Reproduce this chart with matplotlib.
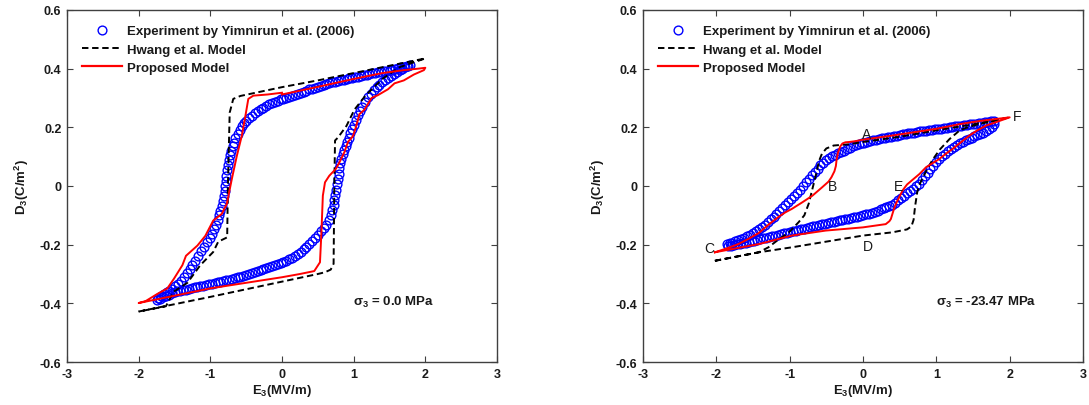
import matplotlib
matplotlib.use("Agg")
import matplotlib.pyplot as plt
from matplotlib.lines import Line2D

plt.rcParams['font.family'] = ['Liberation Sans', 'DejaVu Sans']
plt.rcParams['mathtext.fontset'] = 'custom'
plt.rcParams['mathtext.rm'] = 'Liberation Sans:bold'
plt.rcParams['mathtext.it'] = 'Liberation Sans:bold'
plt.rcParams['mathtext.bf'] = 'Liberation Sans:bold'
plt.rcParams['mathtext.default'] = 'rm'

# ---------------- sigma3 = 0.0 MPa ----------------
exp0_up_E = [1.78, 1.74, 1.70, 1.66, 1.62, 1.58, 1.54, 1.50, 1.46, 1.42, 1.38, 1.34, 1.30, 1.26, 1.22,
             1.18, 1.14, 1.10, 1.06, 1.02, 0.98, 0.94, 0.90, 0.86, 0.82, 0.78, 0.74, 0.70, 0.66, 0.62,
             0.58, 0.54, 0.50, 0.46, 0.42, 0.38, 0.34, 0.30, 0.26, 0.22, 0.18, 0.14, 0.10, 0.06, 0.02,
             -0.02, -0.06, -0.10, -0.14, -0.18, -0.22, -0.26, -0.30, -0.34, -0.38, -0.42, -0.46, -0.50,
             -0.53, -0.56, -0.59, -0.62, -0.65, -0.67, -0.69, -0.71, -0.73, -0.745, -0.76, -0.77, -0.78,
             -0.785, -0.79, -0.80, -0.81, -0.825, -0.84, -0.86, -0.88, -0.90, -0.92, -0.95, -0.98, -1.01,
             -1.05, -1.09, -1.13, -1.17, -1.21, -1.25, -1.29, -1.33, -1.37, -1.41, -1.45, -1.49, -1.53,
             -1.57, -1.61, -1.65, -1.69, -1.73]
exp0_up_D = [0.413, 0.410, 0.406, 0.404, 0.401, 0.399, 0.397, 0.395, 0.393, 0.391, 0.389, 0.387, 0.386,
             0.384, 0.382, 0.380, 0.378, 0.376, 0.373, 0.371, 0.369, 0.367, 0.365, 0.363, 0.361, 0.358,
             0.356, 0.353, 0.350, 0.347, 0.344, 0.341, 0.338, 0.335, 0.332, 0.329, 0.325, 0.322, 0.318,
             0.314, 0.311, 0.307, 0.304, 0.301, 0.298, 0.295, 0.291, 0.287, 0.283, 0.278, 0.273, 0.267,
             0.261, 0.255, 0.248, 0.240, 0.231, 0.222, 0.214, 0.203, 0.192, 0.178, 0.162, 0.148, 0.136,
             0.121, 0.105, 0.088, 0.070, 0.053, 0.035, 0.018, 0.000, -0.018, -0.035, -0.052, -0.068,
             -0.085, -0.100, -0.117, -0.133, -0.148, -0.163, -0.177, -0.192, -0.207, -0.222, -0.238,
             -0.254, -0.270, -0.284, -0.298, -0.311, -0.323, -0.333, -0.342, -0.350, -0.357, -0.363,
             -0.369, -0.375, -0.381]
exp0_dn_E = [-1.74, -1.70, -1.66, -1.62, -1.58, -1.54, -1.50, -1.46, -1.42, -1.38, -1.34, -1.30, -1.26,
             -1.22, -1.18, -1.14, -1.10, -1.06, -1.02, -0.98, -0.94, -0.90, -0.86, -0.82, -0.78, -0.74,
             -0.70, -0.66, -0.62, -0.58, -0.54, -0.50, -0.46, -0.42, -0.38, -0.34, -0.30, -0.26, -0.22,
             -0.18, -0.14, -0.10, -0.06, -0.02, 0.02, 0.06, 0.10, 0.14, 0.18, 0.22, 0.26, 0.30, 0.34,
             0.38, 0.42, 0.46, 0.50, 0.54, 0.58, 0.62, 0.65, 0.68, 0.70, 0.72, 0.73, 0.745, 0.755, 0.765,
             0.775, 0.79, 0.80, 0.815, 0.83, 0.85, 0.87, 0.89, 0.91, 0.93, 0.955, 0.98, 1.00, 1.03, 1.06,
             1.09, 1.12, 1.16, 1.20, 1.24, 1.28, 1.32, 1.36, 1.40, 1.44, 1.48, 1.52, 1.56, 1.60, 1.64,
             1.68, 1.72, 1.76]
exp0_dn_D = [-0.388, -0.384, -0.380, -0.376, -0.370, -0.365, -0.362, -0.359, -0.357, -0.355, -0.353,
             -0.350, -0.348, -0.346, -0.344, -0.342, -0.340, -0.337, -0.335, -0.333, -0.331, -0.328,
             -0.326, -0.324, -0.321, -0.319, -0.317, -0.314, -0.311, -0.309, -0.306, -0.303, -0.300,
             -0.297, -0.294, -0.290, -0.287, -0.284, -0.280, -0.277, -0.273, -0.270, -0.267, -0.263,
             -0.260, -0.255, -0.250, -0.244, -0.238, -0.231, -0.224, -0.216, -0.207, -0.198, -0.188,
             -0.177, -0.166, -0.155, -0.144, -0.132, -0.117, -0.100, -0.083, -0.066, -0.048, -0.030,
             -0.012, 0.006, 0.024, 0.042, 0.060, 0.077, 0.093, 0.108, 0.122, 0.135, 0.150, 0.164, 0.179,
             0.195, 0.209, 0.226, 0.241, 0.257, 0.271, 0.287, 0.302, 0.315, 0.326, 0.336, 0.345, 0.354,
             0.362, 0.369, 0.376, 0.382, 0.389, 0.395, 0.400, 0.405, 0.410]

hwang0_E = [-2.0, -1.5, -1.0, -0.5, 0.0, 0.5, 0.6, 0.68, 0.72, 0.73, 0.74, 0.78, 0.9, 1.01, 1.17, 1.4,
            1.64, 2.0, 1.5, 1.0, 0.5, 0.0, -0.58, -0.68, -0.73, -0.755, -0.765, -0.89, -0.96, -1.14,
            -1.32, -1.51, -1.62, -2.0]
hwang0_D = [-0.428, -0.403, -0.378, -0.352, -0.326, -0.300, -0.294, -0.285, -0.265, 0.0, 0.155, 0.165,
            0.205, 0.26, 0.31, 0.365, 0.405, 0.435, 0.41, 0.385, 0.36, 0.337, 0.307, 0.297, 0.25, 0.0,
            -0.175, -0.19, -0.225, -0.27, -0.33, -0.36, -0.41, -0.428]

prop0_E = [0.0, 0.5, 1.0, 1.4, 1.7, 1.9, 2.0, 1.98, 1.84, 1.7, 1.57, 1.48, 1.34, 1.25, 1.15, 1.08, 1.03,
           0.99, 0.92, 0.87, 0.80, 0.75, 0.66, 0.60, 0.57, 0.55, 0.53, 0.45, 0.25, 0.0, -1.0, -2.0, -1.9,
           -1.74, -1.6, -1.51, -1.39, -1.34, -1.18, -1.07, -0.96, -0.84, -0.77, -0.70, -0.63, -0.56, -0.51,
           -0.47, -0.40, -0.2, 0.0]
prop0_D = [0.312, 0.338, 0.365, 0.385, 0.395, 0.400, 0.403, 0.395, 0.38, 0.36, 0.35, 0.33, 0.31, 0.30,
           0.26, 0.245, 0.20, 0.17, 0.15, 0.115, 0.08, 0.058, 0.035, 0.0125, -0.033, -0.158, -0.26, -0.29,
           -0.30, -0.311, -0.349, -0.399, -0.392, -0.368, -0.349, -0.317, -0.27, -0.238, -0.203, -0.17,
           -0.118, -0.095, -0.061, 0.024, 0.103, 0.172, 0.24, 0.297, 0.308, 0.312, 0.318]

# ---------------- sigma3 = -23.47 MPa ----------------
exp1_up_E = [1.78, 1.74, 1.70, 1.66, 1.62, 1.58, 1.54, 1.50, 1.46, 1.42, 1.38, 1.34, 1.30, 1.26, 1.22,
             1.18, 1.14, 1.10, 1.06, 1.02, 0.98, 0.94, 0.90, 0.86, 0.82, 0.78, 0.74, 0.70, 0.66, 0.62,
             0.58, 0.54, 0.50, 0.46, 0.42, 0.38, 0.34, 0.30, 0.26, 0.22, 0.18, 0.14, 0.10, 0.06, 0.02,
             -0.02, -0.06, -0.10, -0.14, -0.18, -0.22, -0.26, -0.30, -0.34, -0.38, -0.42, -0.46, -0.50,
             -0.54, -0.58, -0.62, -0.66, -0.70, -0.74, -0.78, -0.82, -0.86, -0.90, -0.94, -0.98, -1.02,
             -1.06, -1.10, -1.14, -1.18, -1.22, -1.26, -1.30, -1.34, -1.38, -1.42, -1.46, -1.50, -1.54,
             -1.58, -1.62, -1.66, -1.70, -1.74, -1.78, -1.82, -1.86]
exp1_up_D = [0.222, 0.220, 0.219, 0.218, 0.216, 0.215, 0.213, 0.212, 0.211, 0.209, 0.208, 0.206, 0.205,
             0.204, 0.202, 0.201, 0.199, 0.198, 0.196, 0.195, 0.193, 0.192, 0.190, 0.189, 0.187, 0.186,
             0.184, 0.182, 0.181, 0.179, 0.177, 0.176, 0.174, 0.172, 0.170, 0.168, 0.166, 0.164, 0.162,
             0.160, 0.158, 0.156, 0.153, 0.151, 0.148, 0.146, 0.143, 0.139, 0.135, 0.131, 0.126, 0.121,
             0.116, 0.111, 0.106, 0.101, 0.095, 0.088, 0.080, 0.070, 0.059, 0.048, 0.036, 0.024, 0.012,
             -0.001, -0.013, -0.024, -0.035, -0.045, -0.055, -0.065, -0.075, -0.085, -0.095, -0.105,
             -0.114, -0.123, -0.132, -0.140, -0.147, -0.154, -0.160, -0.166, -0.171, -0.176, -0.181,
             -0.185, -0.189, -0.193, -0.196, -0.199]
exp1_dn_E = [-1.84, -1.80, -1.76, -1.72, -1.68, -1.64, -1.60, -1.56, -1.52, -1.48, -1.44, -1.40, -1.36,
             -1.32, -1.28, -1.24, -1.20, -1.16, -1.12, -1.08, -1.04, -1.00, -0.96, -0.92, -0.88, -0.84,
             -0.80, -0.76, -0.72, -0.68, -0.64, -0.60, -0.56, -0.52, -0.48, -0.44, -0.40, -0.36, -0.32,
             -0.28, -0.24, -0.20, -0.16, -0.12, -0.08, -0.04, 0.00, 0.04, 0.08, 0.12, 0.16, 0.20, 0.24,
             0.28, 0.32, 0.36, 0.40, 0.44, 0.48, 0.52, 0.56, 0.60, 0.64, 0.68, 0.72, 0.76, 0.80, 0.84,
             0.88, 0.92, 0.96, 1.00, 1.04, 1.08, 1.12, 1.16, 1.20, 1.24, 1.28, 1.32, 1.36, 1.40, 1.44,
             1.48, 1.52, 1.56, 1.60, 1.64, 1.68, 1.72, 1.76, 1.79]
exp1_dn_D = [-0.206, -0.203, -0.201, -0.199, -0.197, -0.195, -0.193, -0.190, -0.188, -0.186, -0.183,
             -0.181, -0.178, -0.176, -0.174, -0.171, -0.169, -0.166, -0.164, -0.161, -0.159, -0.157,
             -0.154, -0.152, -0.149, -0.147, -0.145, -0.142, -0.140, -0.138, -0.135, -0.133, -0.131,
             -0.129, -0.127, -0.124, -0.122, -0.120, -0.117, -0.115, -0.113, -0.111, -0.108, -0.106,
             -0.104, -0.102, -0.100, -0.097, -0.094, -0.091, -0.088, -0.084, -0.080, -0.076, -0.072,
             -0.068, -0.064, -0.057, -0.049, -0.041, -0.033, -0.025, -0.017, -0.009, -0.001, 0.008,
             0.020, 0.033, 0.045, 0.057, 0.069, 0.081, 0.092, 0.101, 0.110, 0.118, 0.126, 0.133, 0.139,
             0.145, 0.151, 0.156, 0.161, 0.165, 0.170, 0.174, 0.178, 0.182, 0.187, 0.193, 0.201, 0.210]

hwang1_E = [-2.02, -1.42, -0.97, -0.51, 0.0, 0.4, 0.6, 0.66, 0.69, 0.71, 0.74, 0.78, 0.86, 0.95, 1.05,
            1.18, 1.32, 1.45, 1.6, 2.0, 1.5, 1.0, 0.5, 0.0, -0.2, -0.4, -0.5, -0.56, -0.6, -0.64, -0.69,
            -0.74, -0.8, -0.88, -1.01, -1.15, -1.29, -1.42, -2.02]
hwang1_D = [-0.255, -0.226, -0.209, -0.19, -0.169, -0.158, -0.148, -0.138, -0.115, -0.07, -0.02, 0.01,
            0.05, 0.09, 0.125, 0.16, 0.19, 0.202, 0.212, 0.234, 0.21, 0.19, 0.168, 0.15, 0.142, 0.138,
            0.128, 0.11, 0.085, 0.04, -0.01, -0.06, -0.1, -0.124, -0.158, -0.182, -0.209, -0.226, -0.255]

prop1_E = [-2.02, -1.42, -0.97, -0.51, 0.0, 0.31, 0.36, 0.38, 0.42, 0.45, 0.5, 0.54, 0.6, 0.68, 0.77,
           0.86, 0.95, 1.04, 1.13, 1.22, 1.34, 1.45, 1.56, 1.68, 2.0, 1.6, 1.32, 1.0, 0.4, 0.0, -0.1,
           -0.19, -0.24, -0.28, -0.31, -0.34, -0.36, -0.37, -0.39, -0.43, -0.47, -0.56, -0.69, -0.83,
           -0.97, -1.06, -1.15, -1.28, -1.42, -1.56, -1.7, -1.85, -2.02]
prop1_D = [-0.226, -0.198, -0.169, -0.152, -0.141, -0.13, -0.12, -0.1125, -0.08, -0.06, -0.035, -0.015,
           0.005, 0.022, 0.041, 0.064, 0.078, 0.092, 0.11, 0.126, 0.15, 0.172, 0.19, 0.206, 0.234, 0.222,
           0.211, 0.195, 0.172, 0.158, 0.153, 0.15, 0.149, 0.145, 0.135, 0.115, 0.09, 0.068, 0.05, 0.03,
           0.015, -0.005, -0.033, -0.056, -0.078, -0.09, -0.105, -0.13, -0.16, -0.18, -0.198, -0.212, -0.226]

point_labels = ['A', 'B', 'C', 'D', 'E', 'F']
point_E = [0.05, -0.41, -2.1, 0.06, 0.49, 2.1]
point_D = [0.177, 0.0, -0.21, -0.205, 0.0, 0.24]

legend_labels = ['Experiment by Yimnirun et al. (2006)', 'Hwang et al. Model', 'Proposed Model']
x_ticks = [-3, -2, -1, 0, 1, 2, 3]
y_ticks = [-0.6, -0.4, -0.2, 0, 0.2, 0.4, 0.6]
x_ticklabels = ['-3', '-2', '-1', '0', '1', '2', '3']
y_ticklabels = ['-0.6', '-0.4', '-0.2', '0', '0.2', '0.4', '0.6']

BLUE = '#0000ff'
RED = '#ff0000'
SPINE = '#404040'
INK = '#1a1a1a'

fig = plt.figure(figsize=(10.89, 4.06), dpi=100)
ax1 = fig.add_axes([67 / 1089, 1 - 363 / 406, 430 / 1089, 352 / 406])
ax2 = fig.add_axes([643 / 1089, 1 - 363 / 406, 440 / 1089, 352 / 406])


def draw_panel(ax, up_E, up_D, dn_E, dn_D, hE, hD, pE, pD, note):
    mk = dict(linestyle='none', marker='o', mfc='none', mec=BLUE, ms=6.3, mew=1.0, zorder=2)
    ax.plot(up_E, up_D, **mk)
    ax.plot(dn_E, dn_D, **mk)
    ax.plot(hE, hD, color='black', lw=1.4, dashes=(3.3, 1.9), zorder=3)
    ax.plot(pE, pD, color=RED, lw=1.4, zorder=4)
    ax.set_xlim(-3, 3)
    ax.set_ylim(-0.6, 0.6)
    ax.set_xticks(x_ticks)
    ax.set_xticklabels(x_ticklabels)
    ax.set_yticks(y_ticks)
    ax.set_yticklabels(y_ticklabels)
    ax.tick_params(direction='in', top=True, right=True, length=4, width=0.8,
                   color=SPINE, labelsize=9, pad=4)
    for lab in ax.get_xticklabels() + ax.get_yticklabels():
        lab.set_fontweight('bold')
        lab.set_color(INK)
    for sp in ax.spines.values():
        sp.set_color(SPINE)
        sp.set_linewidth(1.0)
    ax.set_xlabel('E$_3$(MV/m)', fontsize=9.5, fontweight='bold', labelpad=2, color=INK)
    ax.set_ylabel('D$_3$(C/m$^2$)', fontsize=9.5, fontweight='bold', labelpad=6, color=INK)
    ax.text(0.99, -0.395, note, fontsize=9.5, fontweight='bold', ha='left', va='center',
            color=INK)
    handles = [
        Line2D([], [], linestyle='none', marker='o', mfc='none', mec=BLUE, ms=6.3, mew=1.0),
        Line2D([], [], color='black', lw=1.4, dashes=(3.3, 1.9)),
        Line2D([], [], color=RED, lw=1.6),
    ]
    leg = ax.legend(handles, legend_labels, loc='upper left', frameon=False,
                    prop={'size': 9.5, 'weight': 'bold'}, handlelength=3.0,
                    handletextpad=0.4, labelspacing=0.45, borderaxespad=0.75,
                    numpoints=1)
    for t in leg.get_texts():
        t.set_color(INK)


draw_panel(ax1, exp0_up_E, exp0_up_D, exp0_dn_E, exp0_dn_D, hwang0_E, hwang0_D,
           prop0_E, prop0_D, 'σ$_3$ = 0.0 MPa')
draw_panel(ax2, exp1_up_E, exp1_up_D, exp1_dn_E, exp1_dn_D, hwang1_E, hwang1_D,
           prop1_E, prop1_D, 'σ$_3$ = -23.47 MPa')

for lab, e, d in zip(point_labels, point_E, point_D):
    ax2.text(e, d, lab, fontsize=10, ha='center', va='center', color=INK, zorder=5)

fig.savefig('out.png', dpi=100)
